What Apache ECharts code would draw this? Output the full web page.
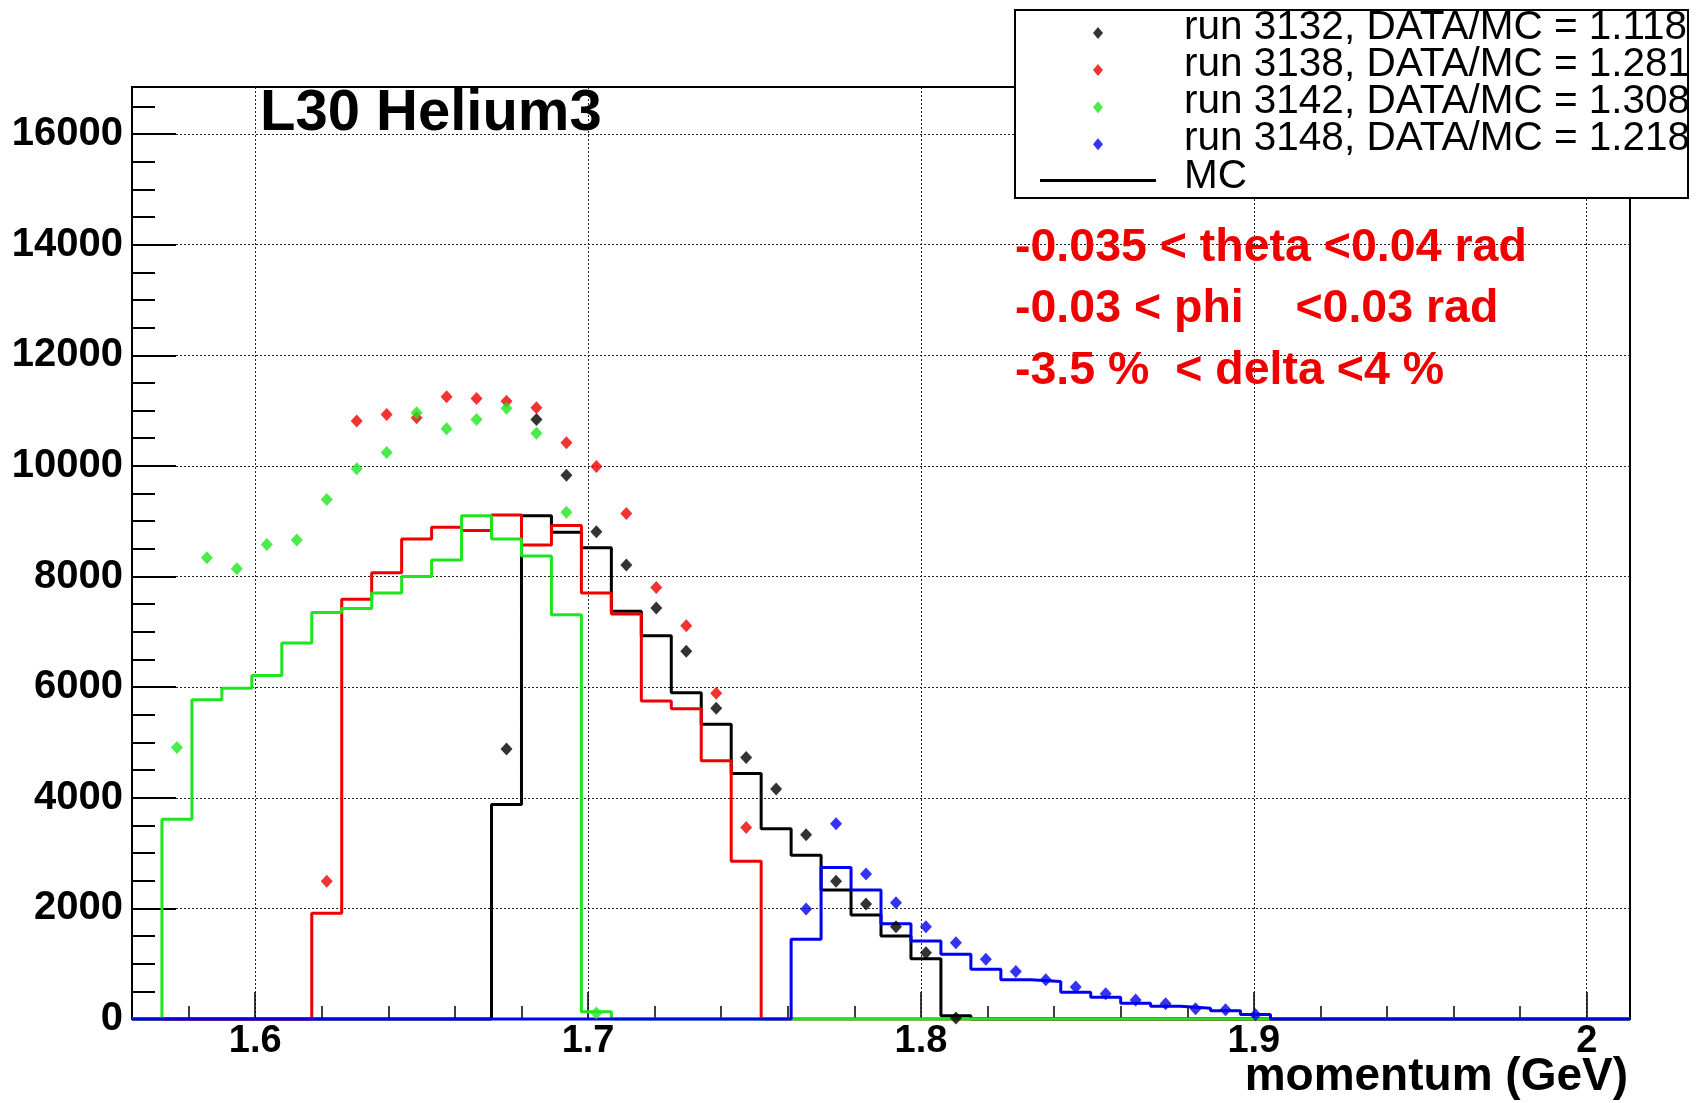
<!DOCTYPE html>
<html>
<head>
<meta charset="utf-8">
<script src="https://cdn.jsdelivr.net/npm/echarts@6/dist/echarts.min.js"></script>
<style>
  html, body { margin: 0; padding: 0; background: #fff; }
  #chart { width: 1696px; height: 1103px; }
</style>
</head>
<body>
<div id="chart"></div>
<script>
// Momentum binning: 50 bins of 9 MeV starting at 1.563 GeV
const BIN_LOW = 1.563;
const BIN_WIDTH = 0.009;
const N_BINS = 50;

// Monte Carlo histograms (index of first filled bin, then bin contents)
const mc3132Start = 12;
const mc3132 = [3880, 9100, 8800, 8520, 7370, 6930, 5900, 5330, 4440, 3440, 2960, 2330, 1880, 1500, 1090, 60];
const mc3138Start = 6;
const mc3138 = [1910, 7590, 8070, 8680, 8890, 8830, 9110, 8570, 8920, 7700, 7320, 5750, 5610, 4670, 2850];
const mc3142Start = 1;
const mc3142 = [3610, 5770, 5980, 6210, 6800, 7350, 7420, 7700, 8000, 8300, 9100, 8680, 8370, 7310, 130];
const mc3148Start = 22;
const mc3148 = [1440, 2740, 2330, 1720, 1410, 1170, 900, 710, 680, 485, 395, 285, 230, 195, 150, 80];

// Measured counts per bin (index of first filled bin, then contents)
const data3132Start = 12;
const data3132 = [4880, 10840, 9830, 8810, 8210, 7430, 6650, 5620, 4730, 4160, 3330, 2490, 2080, 1670, 1200, 20];
const data3138Start = 6;
const data3138 = [2490, 10810, 10930, 10870, 11250, 11220, 11170, 11050, 10420, 9990, 9140, 7800, 7110, 5890, 3460];
const data3142Start = 1;
const data3142 = [4910, 8340, 8140, 8580, 8660, 9390, 9950, 10240, 10960, 10670, 10840, 11040, 10590, 9160, 110];
const data3148Start = 22;
const data3148 = [1990, 3530, 2620, 2100, 1670, 1380, 1080, 860, 710, 580, 455, 345, 275, 185, 165, 75];

// Legend entries
const runLabels = [
  'run 3132, DATA/MC = 1.118',
  'run 3138, DATA/MC = 1.281',
  'run 3142, DATA/MC = 1.308',
  'run 3148, DATA/MC = 1.218'
];
const mcLabel = 'MC';

// Axis ranges and tick labels
const X_MIN = 1.563, X_MAX = 2.013;
const Y_MIN = 0, Y_MAX = 16850;
const xTickValues = [1.6, 1.7, 1.8, 1.9, 2.0];
const yTickValues = [0, 2000, 4000, 6000, 8000, 10000, 12000, 14000, 16000];

// Cut annotations and titles
const cutLines = ['-0.035 < theta <0.04 rad', '-0.03 < phi    <0.03 rad', '-3.5 %  < delta <4 %'];
const plotTitle = 'L30 Helium3';
const xTitle = 'momentum (GeV)';

const COLORS = ['#000000', '#ee0000', '#1ee61e', '#0000ee'];

// Step outline over every bin edge, empty bins drawn at zero
function histLine(start, counts) {
  const pts = [];
  for (let k = 0; k <= N_BINS; k++) {
    const i = Math.min(k, N_BINS - 1);
    const v = (i >= start && i < start + counts.length) ? counts[i - start] : 0;
    pts.push([BIN_LOW + k * BIN_WIDTH, v]);
  }
  return pts;
}
// Markers at bin centres
function binPoints(start, counts) {
  return counts.map((v, j) => [BIN_LOW + (start + j + 0.5) * BIN_WIDTH, v]);
}

// Minor tick positions: 0.02 GeV on x, 500 counts on y
const xMinor = [];
for (let i = 79; i <= 100; i++) { const v = i / 50; if (i % 5 !== 0 && v > X_MIN && v < X_MAX) xMinor.push(v); }
const yMinor = [];
for (let v = 500; v < Y_MAX; v += 500) { if (v % 2000 !== 0) yMinor.push(v); }

const mcSets = [[mc3132Start, mc3132], [mc3138Start, mc3138], [mc3142Start, mc3142], [mc3148Start, mc3148]];
const dataSets = [[data3132Start, data3132], [data3138Start, data3138], [data3142Start, data3142], [data3148Start, data3148]];

const series = [];
mcSets.forEach(([s, c], i) => {
  series.push({
    name: i === 0 ? mcLabel : 'MC ' + runLabels[i].slice(4, 8),
    type: 'line', step: 'end', data: histLine(s, c),
    symbol: 'none', clip: false, silent: true, z: 2,
    lineStyle: { color: COLORS[i], width: 3 },
    itemStyle: { color: COLORS[i] }
  });
});
dataSets.forEach(([s, c], i) => {
  series.push({
    name: runLabels[i], type: 'scatter', data: binPoints(s, c),
    symbol: 'diamond', symbolSize: [12, 13], silent: true, z: 3,
    itemStyle: { color: COLORS[i] }
  });
});

// Legend icons: small diamond sitting a little below the text centre, and a short thick line
const diamondIcon = 'path://M5,0L5,30M5,14L10,20L5,26L0,20Z';
const lineIcon = 'path://M0,0L0,30M0,17.5H116V20.5H0Z';

const labelFont = { fontFamily: 'Liberation Sans', fontWeight: 'bold', fontSize: 38, color: '#000' };
const cutFont = 'bold 46.5px "Liberation Sans"';

const chart = echarts.init(document.getElementById('chart'));
chart.setOption({
  animation: false,
  backgroundColor: '#fff',
  grid: { left: 132, right: 66, top: 87, bottom: 84, show: true, borderColor: '#000', borderWidth: 2, backgroundColor: 'transparent' },
  xAxis: [
    {
      type: 'value', min: X_MIN, max: X_MAX,
      axisLine: { show: true, lineStyle: { color: '#000', width: 2 } },
      axisTick: { show: true, inside: true, length: 27, customValues: xTickValues, lineStyle: { color: '#000', width: 1.5 } },
      axisLabel: Object.assign({ customValues: xTickValues, margin: 4, formatter: v => String(Math.round(v * 10) / 10) }, labelFont),
      splitLine: { show: true, lineStyle: { color: '#222', width: 1, type: [2, 2] } }
    },
    {
      type: 'value', min: X_MIN, max: X_MAX, position: 'bottom', offset: 0,
      axisLine: { show: false }, axisLabel: { show: false }, splitLine: { show: false },
      axisTick: { show: true, inside: true, length: 13, customValues: xMinor, lineStyle: { color: '#000', width: 1.5 } }
    }
  ],
  yAxis: [
    {
      type: 'value', min: Y_MIN, max: Y_MAX,
      axisLine: { show: true, lineStyle: { color: '#000', width: 2 } },
      axisTick: { show: true, inside: true, length: 44, customValues: yTickValues, lineStyle: { color: '#000', width: 2 } },
      axisLabel: Object.assign({ customValues: yTickValues, margin: 9, formatter: v => String(v) }, labelFont, { fontSize: 40 }),
      splitLine: { show: true, lineStyle: { color: '#222', width: 1, type: [2, 2] } }
    },
    {
      type: 'value', min: Y_MIN, max: Y_MAX, position: 'left', offset: 0,
      axisLine: { show: false }, axisLabel: { show: false }, splitLine: { show: false },
      axisTick: { show: true, inside: true, length: 23, customValues: yMinor, lineStyle: { color: '#000', width: 2 } }
    }
  ],
  legend: {
    data: runLabels.map(n => ({ name: n, icon: diamondIcon })).concat([{ name: mcLabel, icon: lineIcon }]),
    orient: 'vertical', left: 1040, top: 7.5,
    itemWidth: 116, itemHeight: 30, itemGap: -3.9,
    padding: 0, z: 10,
    backgroundColor: 'transparent', borderWidth: 0,
    selectedMode: false,
    textStyle: { fontFamily: 'Liberation Sans', fontSize: 40.5, color: '#000', lineHeight: 37, padding: [0, 0, 0, 23] }
  },
  graphic: [
    // legend frame
    { type: 'rect', z: 5, shape: { x: 1015, y: 10, width: 673, height: 188 }, style: { fill: '#fff', stroke: '#000', lineWidth: 2 } },
    { type: 'text', x: 260, y: 114, z: 10, style: { text: plotTitle, font: 'bold 58px "Liberation Sans"', fill: '#000', verticalAlign: 'middle' } },
    { type: 'text', x: 1015, y: 248, z: 10, style: { text: cutLines[0], font: cutFont, fill: '#f00000', verticalAlign: 'middle' } },
    { type: 'text', x: 1015, y: 309, z: 10, style: { text: cutLines[1], font: cutFont, fill: '#f00000', verticalAlign: 'middle' } },
    { type: 'text', x: 1015, y: 371, z: 10, style: { text: cutLines[2], font: cutFont, fill: '#f00000', verticalAlign: 'middle' } },
    { type: 'text', x: 1628, y: 1077, z: 10, style: { text: xTitle, font: 'bold 46px "Liberation Sans"', fill: '#000', align: 'right', verticalAlign: 'middle' } }
  ],
  series: series
});
</script>
</body>
</html>
